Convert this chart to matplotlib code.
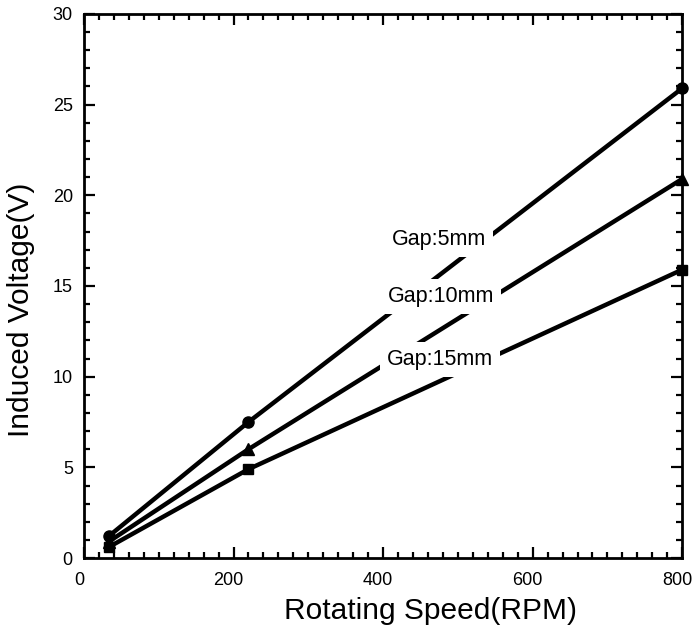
import matplotlib
matplotlib.use("Agg")
import matplotlib.pyplot as plt
from matplotlib.ticker import MultipleLocator
from matplotlib.transforms import ScaledTranslation

speed = [33, 220, 800]
gap5 = [1.2, 7.5, 25.9]
gap10 = [0.9, 6.0, 20.9]
gap15 = [0.6, 4.9, 15.9]
labels = ["Gap:5mm", "Gap:10mm", "Gap:15mm"]
label_pos = [(475, 17.26), (478, 14.12), (476, 10.64)]

plt.rcParams['font.family'] = ['Liberation Sans', 'DejaVu Sans']

fig = plt.figure(figsize=(6.94, 6.32), dpi=100)
ax = fig.add_axes([0.121, 0.117, 0.862, 0.861])

for y, m, ms in [(gap5, 'o', 8), (gap10, '^', 8.5), (gap15, 's', 7.5)]:
    ax.plot(speed, y, color='black', lw=3.2, marker=m, ms=ms, clip_on=False, zorder=3)

for lab, (x, y) in zip(labels, label_pos):
    ax.text(x, y, lab, ha='center', va='baseline', fontsize=15.5, zorder=4,
            bbox=dict(facecolor='white', edgecolor='none', pad=5))

ax.set_xlim(0, 800)
ax.set_ylim(0, 30)
ax.xaxis.set_major_locator(MultipleLocator(200))
ax.xaxis.set_minor_locator(MultipleLocator(20))
ax.yaxis.set_major_locator(MultipleLocator(5))
ax.yaxis.set_minor_locator(MultipleLocator(1))
ax.tick_params(which='both', direction='in', top=True, right=True, labelsize=13, width=1.6)
ax.tick_params(which='major', length=8)
ax.tick_params(which='minor', length=4)
ax.tick_params(axis='x', which='major', pad=10)
ax.tick_params(axis='y', which='major', pad=8)
for s in ax.spines.values():
    s.set_linewidth(2)

shift = ScaledTranslation(-0.05, 0, fig.dpi_scale_trans)
for lbl in ax.get_xticklabels():
    lbl.set_transform(lbl.get_transform() + shift)

ax.set_xlabel('Rotating Speed(RPM)', fontsize=21.5)
ax.xaxis.set_label_coords(0.579, -0.072)
ax.set_ylabel('Induced Voltage(V)', fontsize=21.5)
ax.yaxis.set_label_coords(-0.082, 0.456)

fig.savefig('out.png', dpi=100)
